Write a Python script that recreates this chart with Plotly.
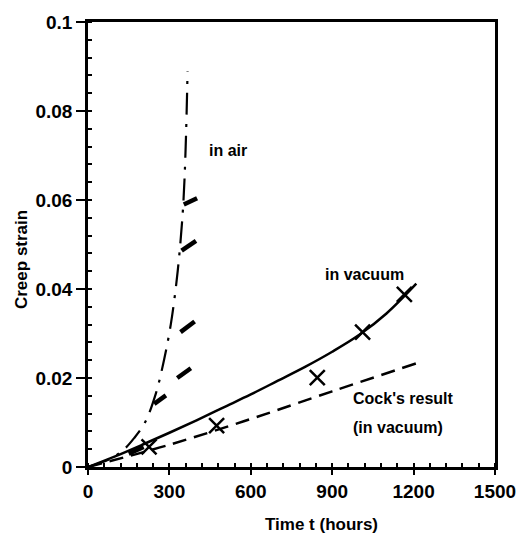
import plotly.graph_objects as go

# ---- data ----
vac_x = [0, 100, 200, 300, 400, 500, 600, 700, 800, 900, 1000, 1100, 1210]
vac_y = [0, 0.0024, 0.0050, 0.0077, 0.0105, 0.0134, 0.0163, 0.0194, 0.0225, 0.0259, 0.0297, 0.0345, 0.0412]

vac_pts_x = [225, 474, 845, 1012, 1166]
vac_pts_y = [0.0045, 0.0093, 0.0201, 0.0303, 0.0388]

cock_x = [0, 300, 600, 900, 1215]
cock_y = [0, 0.0050, 0.0108, 0.0170, 0.0234]

air_x = [0, 80, 130, 170, 210, 250, 280, 305, 325, 340, 352, 360, 367]
air_y = [0, 0.0018, 0.0038, 0.0065, 0.0100, 0.0165, 0.0240, 0.0320, 0.0410, 0.0500, 0.0600, 0.0720, 0.0890]

# in-air experimental segments: start/end of each short thick stroke
seg_x0 = [150, 244, 329, 341, 345, 353]
seg_y0 = [0.0030, 0.0142, 0.0200, 0.0303, 0.0486, 0.0590]
seg_x1 = [205, 287, 379, 393, 398, 402]
seg_y1 = [0.0045, 0.0161, 0.0222, 0.0327, 0.0508, 0.0604]

x_ticks = [0, 300, 600, 900, 1200, 1500]
y_ticks = [0, 0.02, 0.04, 0.06, 0.08, 0.1]
y_tick_labels = ["0", "0.02", "0.04", "0.06", "0.08", "0.1"]

labels = ["in air", "in vacuum", "Cock's result", "(in vacuum)"]
label_x = [517, 1019, 1161, 1143]
label_y = [0.0711, 0.0433, 0.0153, 0.0089]

FONT = "Liberation Sans, Arial, sans-serif"

fig = go.Figure()

fig.add_trace(go.Scatter(x=air_x, y=air_y, mode="lines", line_shape="spline",
                         line=dict(color="black", width=2.2, dash="22px,9px,3px,9px"),
                         showlegend=False))

sx, sy = [], []
for a, b, c, d in zip(seg_x0, seg_y0, seg_x1, seg_y1):
    sx += [a, c, None]
    sy += [b, d, None]
fig.add_trace(go.Scatter(x=sx, y=sy, mode="lines",
                         line=dict(color="black", width=4.5), showlegend=False))

fig.add_trace(go.Scatter(x=cock_x, y=cock_y, mode="lines", line_shape="spline",
                         line=dict(color="black", width=2.5, dash="14px,8px"),
                         showlegend=False))

fig.add_trace(go.Scatter(x=vac_x, y=vac_y, mode="lines", line_shape="spline",
                         line=dict(color="black", width=2.5), showlegend=False))

fig.add_trace(go.Scatter(x=vac_pts_x, y=vac_pts_y, mode="markers",
                         marker=dict(symbol="x-thin", size=15, color="black",
                                     line=dict(color="black", width=2.5)),
                         showlegend=False))

for t, xx, yy in zip(labels, label_x, label_y):
    fig.add_annotation(x=xx, y=yy, text=t, showarrow=False,
                       font=dict(family=FONT, size=16, color="black", weight="bold"))

fig.add_annotation(x=859, y=-0.13, xref="x", yref="paper", text="Time t (hours)",
                   showarrow=False, yanchor="middle",
                   font=dict(family=FONT, size=17, color="black", weight="bold"))
fig.add_annotation(x=-0.165, y=0.467, xref="paper", yref="paper", text="Creep strain",
                   showarrow=False, textangle=-90, xanchor="center", yanchor="middle",
                   font=dict(family=FONT, size=17, color="black", weight="bold"))

fig.update_layout(
    width=528, height=535,
    margin=dict(l=88, r=28, t=17, b=68),
    paper_bgcolor="white", plot_bgcolor="white",
    font=dict(family=FONT, color="black"),
)
fig.update_xaxes(range=[0, 1500], tickvals=x_ticks, showgrid=False, zeroline=False,
                 showline=True, linecolor="black", linewidth=2.5, mirror=True,
                 ticks="outside", ticklen=5, tickwidth=2, tickcolor="black",
                 tickfont=dict(family=FONT, size=19, color="black", weight="bold"),
                 minor=dict(dtick=60, tick0=0, ticks="inside", ticklen=4, tickwidth=1.5,
                            tickcolor="black", showgrid=False))
fig.update_yaxes(range=[0, 0.1], tickvals=y_ticks, ticktext=y_tick_labels,
                 showgrid=False, zeroline=False,
                 showline=True, linecolor="black", linewidth=2.5, mirror=True,
                 ticks="outside", ticklen=9, tickwidth=2, tickcolor="black",
                 tickfont=dict(family=FONT, size=19, color="black", weight="bold"),
                 minor=dict(dtick=0.004, tick0=0, ticks="inside", ticklen=4, tickwidth=1.5,
                            tickcolor="black", showgrid=False))

fig.write_html("out.html", config={"displayModeBar": False},
               post_script="document.body.style.margin='0';document.body.style.overflow='hidden';")
